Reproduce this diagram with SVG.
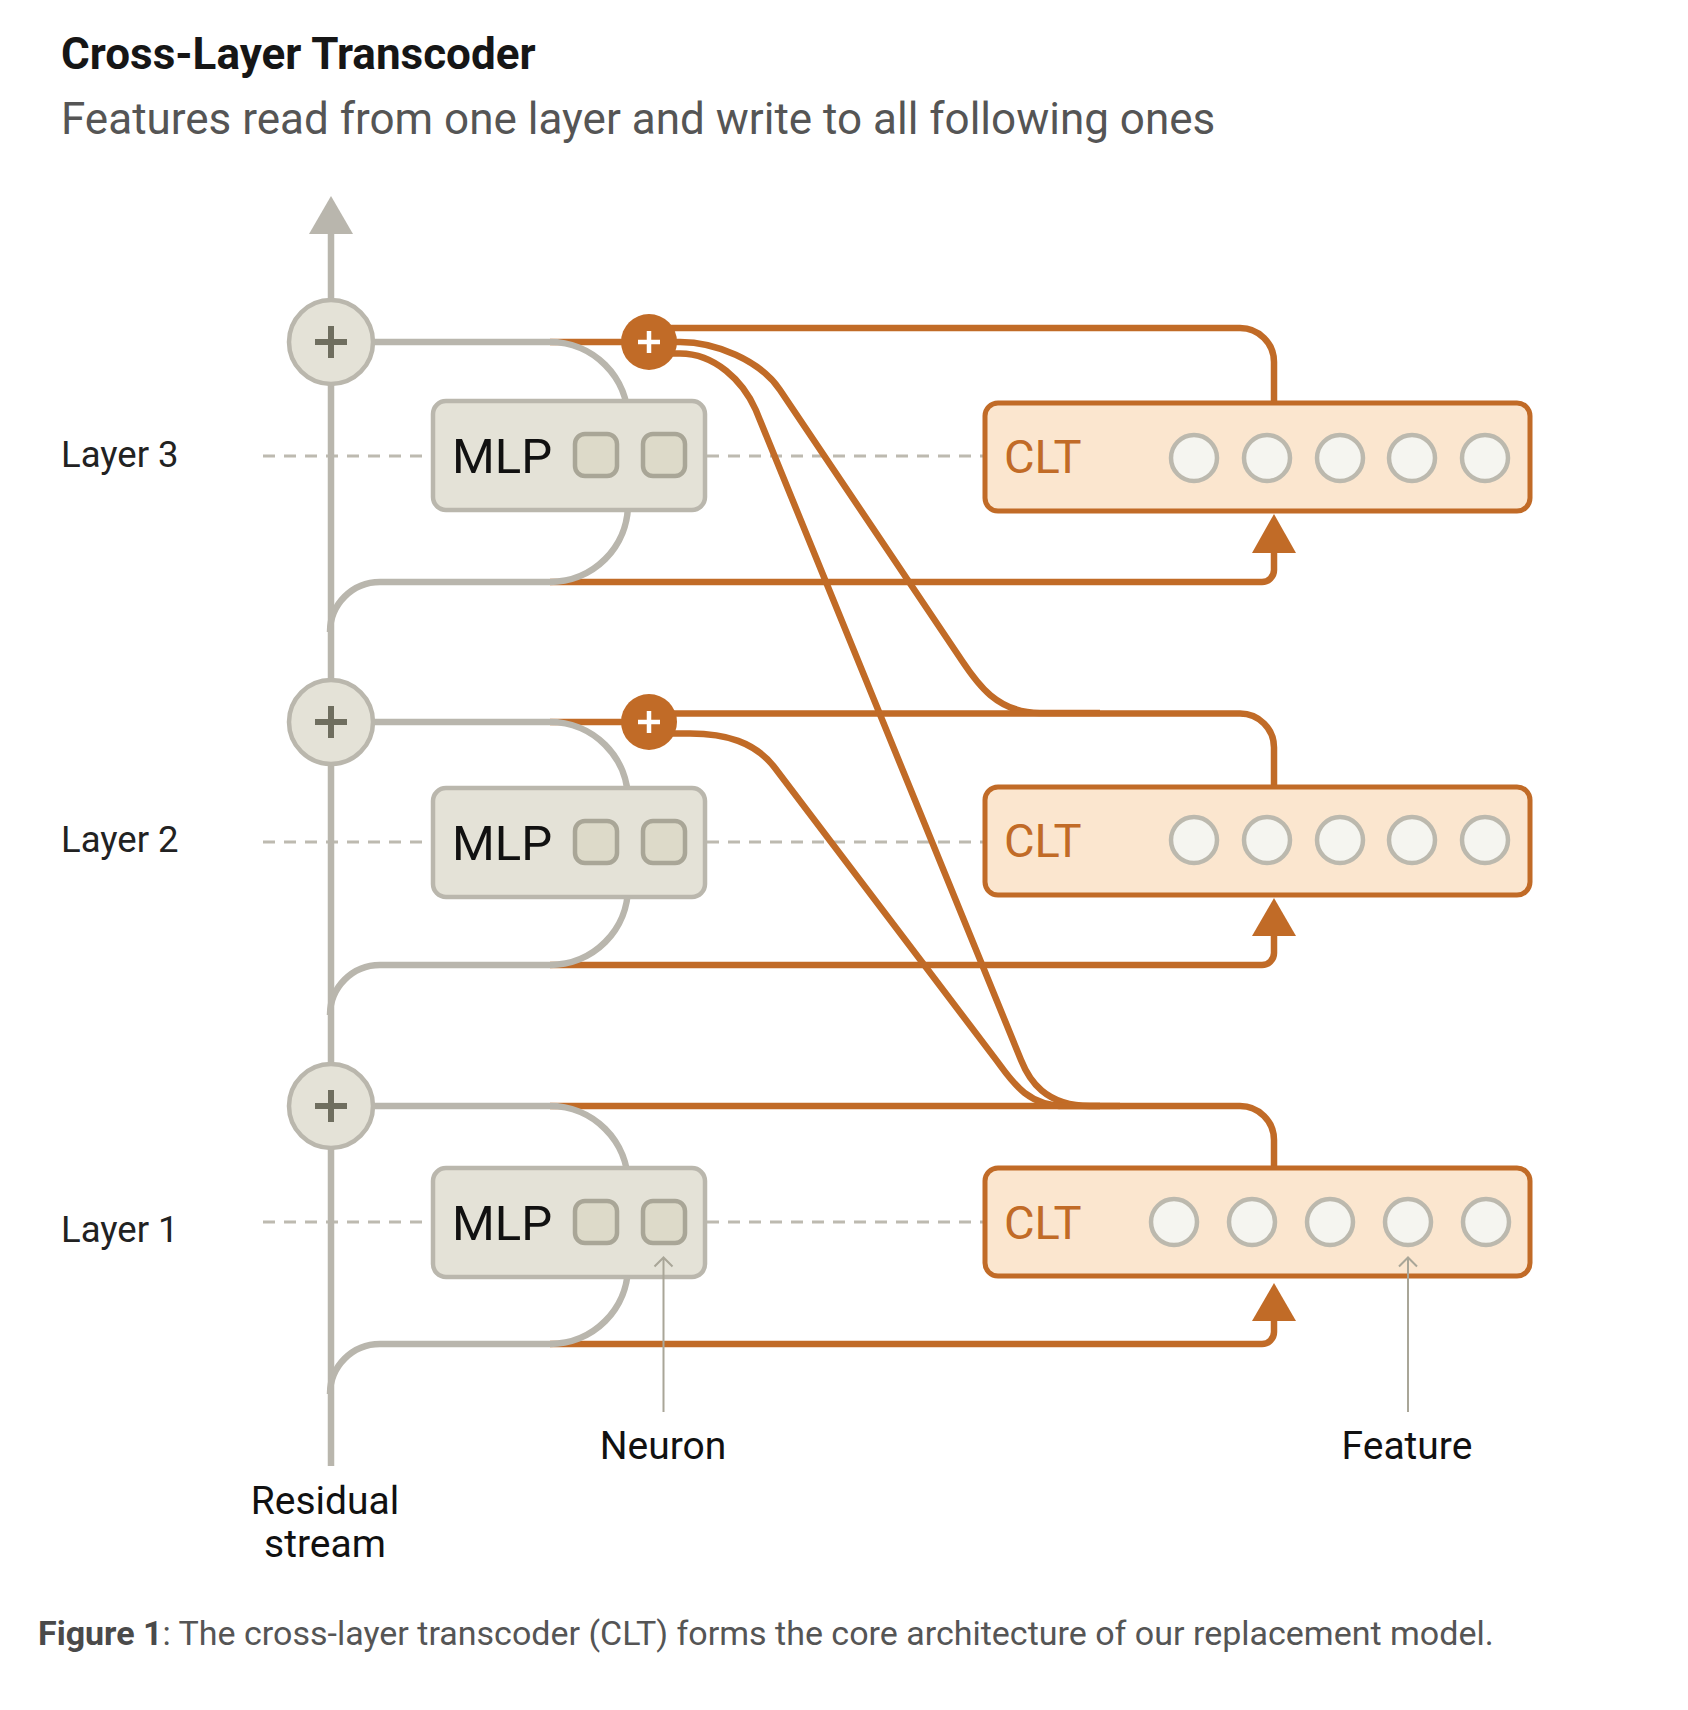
<svg xmlns="http://www.w3.org/2000/svg" width="1688" height="1710" viewBox="0 0 1688 1710">
<style>
text{font-family:Roboto,"Liberation Sans",sans-serif}
.title{font-size:44px;font-weight:700;fill:#161616}
.sub{font-size:44px;fill:#555}
.lbl{font-size:36.5px;fill:#222}
.ann{font-size:39px;fill:#111}
.cap{font-size:34px;fill:#555}
.gline{fill:none;stroke:#b9b6ad;stroke-width:6.5}
.oline{fill:none;stroke:#c16b27;stroke-width:6.5}
.dash{stroke:#bdbab0;stroke-width:3;stroke-dasharray:12 9;fill:none}
.mlp{fill:#e4e2d7;stroke:#bab7ad;stroke-width:4.5}
.mlpt{font-size:49px;fill:#111}
.neu{fill:#dddac9;stroke:#a9a697;stroke-width:4.5}
.clt{fill:#fbe6cf;stroke:#c16b27;stroke-width:5}
.cltt{font-size:47px;fill:#c16b27}
.feat{fill:#f5f5f0;stroke:#bcb9ae;stroke-width:4.5}
.gsum{fill:#e4e2d7;stroke:#bab7ad;stroke-width:4.5}
.gplus{stroke:#6f6e5f;stroke-width:6;fill:none}
.osum{fill:#c16b27}
.oplus{stroke:#fff;stroke-width:4.5;fill:none}
.arr{fill:#c16b27}
.thin{stroke:#a9a698;stroke-width:2;fill:none}
</style>

<text class="title" x="61" y="69">Cross-Layer Transcoder</text>
<text class="sub" x="61" y="134">Features read from one layer and write to all following ones</text>

<g id="dashes">
<line class="dash" x1="263" y1="456" x2="433" y2="456"/>
<line class="dash" x1="707" y1="456" x2="983" y2="456"/>
<line class="dash" x1="263" y1="842" x2="433" y2="842"/>
<line class="dash" x1="707" y1="842" x2="983" y2="842"/>
<line class="dash" x1="263" y1="1222" x2="433" y2="1222"/>
<line class="dash" x1="707" y1="1222" x2="983" y2="1222"/>
</g>

<g id="layer-labels">
<text class="lbl" x="61" y="467">Layer 3</text>
<text class="lbl" x="61" y="852">Layer 2</text>
<text class="lbl" x="61" y="1242">Layer 1</text>
</g>

<g id="connectors">
<path class="oline" d="M550 342 H649"/>
<path class="oline" d="M649 328 H1240 A34 34 0 0 1 1274 362 V403"/>
<path class="oline" d="M649 342 H680 C715 342 760 360 780 390 L960 657.7 C975 680 995 713 1040 713 H1100"/>
<path class="oline" d="M649 353.5 H680 C715 353.5 743 381 755.8 410 L1021 1060 C1029 1080 1045 1106 1090 1106 H1120"/>
<path class="oline" d="M550 722 H649"/>
<path class="oline" d="M649 713.5 H1240 A34 34 0 0 1 1274 747.5 V787"/>
<path class="oline" d="M649 733.5 H690 C725 733.5 755 741.6 775 768 L995 1058.4 C1010 1078 1025 1106 1065 1106 H1100"/>
<path class="oline" d="M550 1106 H1240 A34 34 0 0 1 1274 1140 V1167"/>
<path class="oline" d="M550 582 H1262 A12 12 0 0 0 1274 570 V548"/>
<path class="oline" d="M550 965 H1262 A12 12 0 0 0 1274 953 V931"/>
<path class="oline" d="M550 1344 H1262 A12 12 0 0 0 1274 1332 V1316"/>
<polygon class="arr" points="1274,514 1296,553 1252,553"/>
<polygon class="arr" points="1274,898 1296,936 1252,936"/>
<polygon class="arr" points="1274,1283 1296,1321 1252,1321"/>
<path class="gline" d="M331 234 V1466"/>
<polygon fill="#b9b6ad" points="331,196 353,234 309,234"/>
<path class="gline" d="M331 342 H550 A78 78 0 0 1 628 420"/>
<path class="gline" d="M628 504 A78 78 0 0 1 550 582 H380 A50 50 0 0 0 330 632"/>
<path class="gline" d="M331 722 H550 A78 78 0 0 1 628 800"/>
<path class="gline" d="M628 887 A78 78 0 0 1 550 965 H380 A50 50 0 0 0 330 1015"/>
<path class="gline" d="M331 1106 H550 A78 78 0 0 1 628 1184"/>
<path class="gline" d="M628 1266 A78 78 0 0 1 550 1344 H380 A50 50 0 0 0 330 1394"/>
</g>

<g id="sum-3">
<circle class="gsum" cx="331" cy="342" r="42"/>
<path class="gplus" d="M315 342 H347 M331 326 V358"/>
</g>
<g id="sum-2">
<circle class="gsum" cx="331" cy="722" r="42"/>
<path class="gplus" d="M315 722 H347 M331 706 V738"/>
</g>
<g id="sum-1">
<circle class="gsum" cx="331" cy="1106" r="42"/>
<path class="gplus" d="M315 1106 H347 M331 1090 V1122"/>
</g>

<g id="clt-sum-3">
<circle class="osum" cx="649" cy="342" r="28"/>
<path class="oplus" d="M638 342 H660 M649 331 V353"/>
</g>
<g id="clt-sum-2">
<circle class="osum" cx="649" cy="722" r="28"/>
<path class="oplus" d="M638 722 H660 M649 711 V733"/>
</g>

<g id="mlp-3">
<rect class="mlp" x="433" y="401" width="272" height="109" rx="13"/>
<text class="mlpt" x="452" y="473">MLP</text>
<rect class="neu" x="575" y="434" width="42" height="42" rx="10"/>
<rect class="neu" x="643" y="434" width="42" height="42" rx="10"/>
</g>
<g id="mlp-2">
<rect class="mlp" x="433" y="788" width="272" height="109" rx="13"/>
<text class="mlpt" x="452" y="860">MLP</text>
<rect class="neu" x="575" y="821" width="42" height="42" rx="10"/>
<rect class="neu" x="643" y="821" width="42" height="42" rx="10"/>
</g>
<g id="mlp-1">
<rect class="mlp" x="433" y="1168" width="272" height="109" rx="13"/>
<text class="mlpt" x="452" y="1240">MLP</text>
<rect class="neu" x="575" y="1201" width="42" height="42" rx="10"/>
<rect class="neu" x="643" y="1201" width="42" height="42" rx="10"/>
</g>

<g id="clt-3">
<rect class="clt" x="985" y="403" width="545" height="108" rx="13"/>
<text class="cltt" x="1004" y="473">CLT</text>
<circle class="feat" cx="1194" cy="458" r="23"/>
<circle class="feat" cx="1267" cy="458" r="23"/>
<circle class="feat" cx="1340" cy="458" r="23"/>
<circle class="feat" cx="1412" cy="458" r="23"/>
<circle class="feat" cx="1485" cy="458" r="23"/>
</g>
<g id="clt-2">
<rect class="clt" x="985" y="787" width="545" height="108" rx="13"/>
<text class="cltt" x="1004" y="857">CLT</text>
<circle class="feat" cx="1194" cy="840" r="23"/>
<circle class="feat" cx="1267" cy="840" r="23"/>
<circle class="feat" cx="1340" cy="840" r="23"/>
<circle class="feat" cx="1412" cy="840" r="23"/>
<circle class="feat" cx="1485" cy="840" r="23"/>
</g>
<g id="clt-1">
<rect class="clt" x="985" y="1168" width="545" height="108" rx="13"/>
<text class="cltt" x="1004" y="1239">CLT</text>
<circle class="feat" cx="1174" cy="1222" r="23"/>
<circle class="feat" cx="1252" cy="1222" r="23"/>
<circle class="feat" cx="1330" cy="1222" r="23"/>
<circle class="feat" cx="1408" cy="1222" r="23"/>
<circle class="feat" cx="1486" cy="1222" r="23"/>
</g>

<g id="neuron-label">
<path class="thin" d="M663.5 1412 V1258 M654.5 1266.5 L663.5 1257.5 L672.5 1266.5"/>
<text class="ann" x="663" y="1459" text-anchor="middle">Neuron</text>
</g>
<g id="feature-label">
<path class="thin" d="M1408 1412 V1258 M1399 1266.5 L1408 1257.5 L1417 1266.5"/>
<text class="ann" x="1407" y="1459" text-anchor="middle">Feature</text>
</g>
<g id="residual-label">
<text class="ann" x="325" y="1514" text-anchor="middle">Residual</text>
<text class="ann" x="325" y="1557" text-anchor="middle">stream</text>
</g>

<text class="cap" x="38" y="1645"><tspan font-weight="700" fill="#4a4a4a">Figure 1</tspan>: The cross-layer transcoder (CLT) forms the core architecture of our replacement model.</text>
</svg>
